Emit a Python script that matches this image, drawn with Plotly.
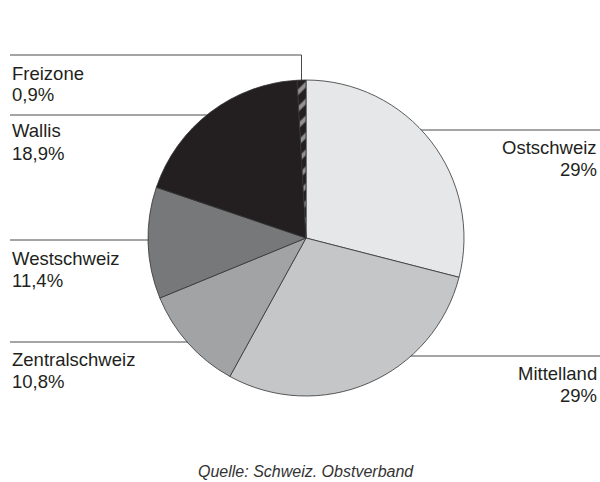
import plotly.graph_objects as go

W, H = 600, 482

regions = ["Ostschweiz", "Mittelland", "Zentralschweiz", "Westschweiz", "Wallis", "Freizone"]
shares = [29.0, 29.0, 10.8, 11.4, 18.9, 0.9]
share_labels = ["29%", "29%", "10,8%", "11,4%", "18,9%", "0,9%"]
slice_colors = ["#e6e7e8", "#c5c6c8", "#a1a3a5", "#77787a", "#231f20", "#231f20"]
patterns = ["", "", "", "", "", "/"]

INK = "#231f20"
FONT = "Liberation Sans, Arial, sans-serif"


def px(x, y):
    return x / W, 1 - y / H


fig = go.Figure(go.Pie(
    labels=regions, values=shares, sort=False, direction="clockwise", rotation=0,
    textinfo="none", hoverinfo="label+percent", showlegend=False,
    marker=dict(
        colors=slice_colors,
        line=dict(color="#333333", width=0.8),
        pattern=dict(shape=patterns, fgcolor="white", bgcolor=slice_colors,
                     size=12, solidity=0.35, fillmode="overlay"),
    ),
    domain=dict(x=[148 / W, 464 / W], y=[1 - 396 / H, 1 - 80 / H]),
))

# leader lines (drawn under the pie, so they stop at its edge)
lines = [
    [(10, 55), (301.5, 55), (301.5, 200)],   # Freizone
    [(10, 115), (306, 115)],                 # Wallis
    [(306, 130), (600, 130)],                # Ostschweiz
    [(10, 240), (306, 240)],                 # Westschweiz
    [(10, 342), (306, 342)],                 # Zentralschweiz
    [(306, 356), (600, 356)],                # Mittelland
]
shapes = []
for pts in lines:
    for (x0, y0), (x1, y1) in zip(pts[:-1], pts[1:]):
        a0, b0 = px(x0, y0)
        a1, b1 = px(x1, y1)
        shapes.append(dict(type="line", xref="paper", yref="paper", x0=a0, y0=b0, x1=a1, y1=b1,
                           line=dict(color="#4a4a4a", width=1), layer="below"))

# label anchors: (x, centre y of name line, side); share sits one line below
label_pos = {
    "Freizone": (10, 73, "left"),
    "Wallis": (10, 131, "left"),
    "Westschweiz": (10, 258, "left"),
    "Zentralschweiz": (10, 359, "left"),
    "Ostschweiz": (599, 147, "right"),
    "Mittelland": (599, 373, "right"),
}
LINE_GAP = 22
annotations = []
for name, lab in zip(regions, share_labels):
    x, y, side = label_pos[name]
    for txt, yy in ((name, y), (lab, y + LINE_GAP)):
        ax, ay = px(x, yy)
        annotations.append(dict(
            text=txt, x=ax, y=ay, xref="paper", yref="paper",
            xanchor=side, yanchor="middle", align=side, showarrow=False,
            font=dict(family=FONT, size=18.5, color=INK),
        ))

sx, sy = px(306, 471)
annotations.append(dict(
    text="<i>Quelle: Schweiz. Obstverband</i>", x=sx, y=sy, xref="paper", yref="paper",
    xanchor="center", yanchor="middle", showarrow=False,
    font=dict(family=FONT, size=16, color="#333333"),
))

fig.update_layout(
    width=W, height=H, margin=dict(l=0, r=0, t=0, b=0),
    paper_bgcolor="white", plot_bgcolor="white",
    shapes=shapes, annotations=annotations,
)
fig.write_html("out.html", config={"displayModeBar": False},
               post_script="document.body.style.margin='0';")
